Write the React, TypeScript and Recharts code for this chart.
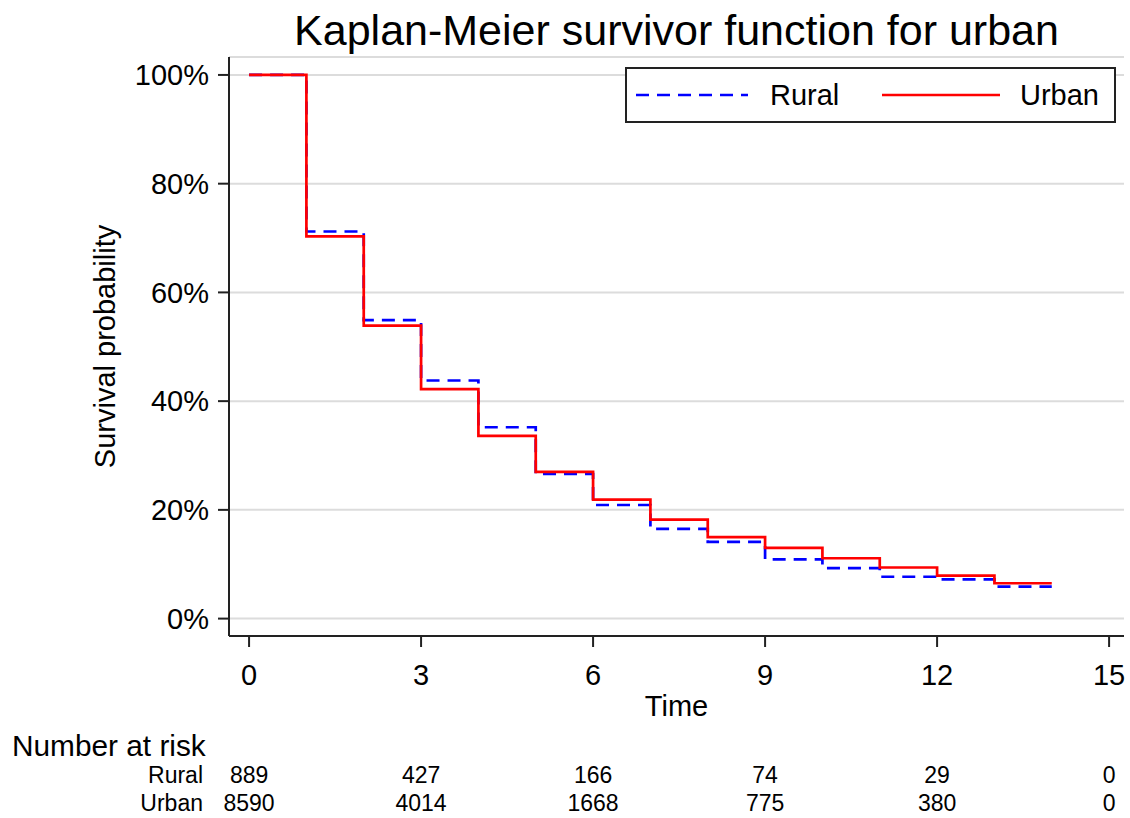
import { LineChart, Line, XAxis, YAxis, CartesianGrid } from "recharts";

// survivor estimates, one value per yearly step
const times = [0, 1, 2, 3, 4, 5, 6, 7, 8, 9, 10, 11, 12, 13, 14];
const ruralSurv = [100, 71.2, 54.9, 43.8, 35.2, 26.6, 20.9, 16.5, 14.1, 10.9, 9.3, 7.7, 7.2, 5.9, 5.9];
const urbanSurv = [100, 70.3, 53.9, 42.2, 33.6, 27.0, 21.9, 18.2, 15.0, 13.0, 11.1, 9.4, 7.9, 6.5, 6.5];

const timeTicks = [0, 3, 6, 9, 12, 15];
const pctTicks = [0, 20, 40, 60, 80, 100];
const ruralAtRisk = [889, 427, 166, 74, 29, 0];
const urbanAtRisk = [8590, 4014, 1668, 775, 380, 0];

const data = times.map((t, i) => ({ time: t, rural: ruralSurv[i], urban: urbanSurv[i] }));

const xDomain = [-0.35, 15.26];
const yDomain = [-3.2, 103.3];
const frame = "#222";
const font = '"Liberation Sans", Arial, sans-serif';

function TimeLabel(props: any) {
  const vb = props.viewBox;
  return (
    <g>
      <text x={vb.x + vb.width / 2} y={vb.y + 80} textAnchor="middle" fontSize={29} fill="#000">
        Time
      </text>
      <text x={12} y={vb.y + 120} fontSize={29.8} fill="#000">
        Number at risk
      </text>
    </g>
  );
}

function RowLabel(props: any) {
  const vb = props.viewBox;
  return (
    <text x={vb.x - 26} y={vb.y + vb.height / 2 + 8} textAnchor="end" fontSize={23} fill="#000">
      {props.name}
    </text>
  );
}

function YLabel(props: any) {
  const vb = props.viewBox;
  return (
    <text
      transform={`translate(105, ${vb.y + vb.height / 2}) rotate(-90)`}
      textAnchor="middle"
      dominantBaseline="central"
      fontSize={29}
      fill="#000"
    >
      Survival probability
    </text>
  );
}

export default function App() {
  return (
    <div
      style={{
        position: "absolute",
        left: 0,
        top: 0,
        width: 1130,
        height: 818,
        background: "#fff",
        fontFamily: font,
      }}
    >
      <div
        style={{
          position: "absolute",
          left: 229,
          width: 895,
          top: 9,
          textAlign: "center",
          fontSize: 43,
          lineHeight: 1,
          color: "#000",
        }}
      >
        Kaplan-Meier survivor function for urban
      </div>
      <LineChart
        width={1130}
        height={818}
        data={data}
        margin={{ top: 57, right: 6, left: 0, bottom: 1 }}
      >
        <CartesianGrid vertical={false} stroke="#dcdcdc" strokeWidth={2} />
        <XAxis
          dataKey="time"
          type="number"
          domain={xDomain}
          allowDataOverflow
          ticks={timeTicks}
          height={125}
          tickSize={11}
          tickMargin={17}
          axisLine={{ stroke: frame, strokeWidth: 2 }}
          tickLine={{ stroke: frame, strokeWidth: 2 }}
          tick={{ fontSize: 29, fill: "#000" }}
          label={<TimeLabel />}
        />
        <XAxis
          xAxisId="rural"
          dataKey="time"
          type="number"
          domain={xDomain}
          allowDataOverflow
          ticks={timeTicks}
          height={28}
          tickSize={0}
          tickMargin={6}
          axisLine={false}
          tickLine={false}
          tick={{ fontSize: 23, fill: "#000" }}
          tickFormatter={(v: number) => String(ruralAtRisk[timeTicks.indexOf(v)])}
          label={<RowLabel name="Rural" />}
        />
        <XAxis
          xAxisId="urban"
          dataKey="time"
          type="number"
          domain={xDomain}
          allowDataOverflow
          ticks={timeTicks}
          height={28}
          tickSize={0}
          tickMargin={6}
          axisLine={false}
          tickLine={false}
          tick={{ fontSize: 23, fill: "#000" }}
          tickFormatter={(v: number) => String(urbanAtRisk[timeTicks.indexOf(v)])}
          label={<RowLabel name="Urban" />}
        />
        <XAxis
          xAxisId="top"
          orientation="top"
          type="number"
          domain={xDomain}
          allowDataOverflow
          height={0}
          tick={false}
          tickLine={false}
          axisLine={{ stroke: frame, strokeWidth: 2 }}
        />
        <YAxis
          type="number"
          domain={yDomain}
          allowDataOverflow
          ticks={pctTicks}
          width={229}
          tickSize={11}
          tickMargin={9}
          tickFormatter={(v: number) => `${v}%`}
          axisLine={{ stroke: frame, strokeWidth: 2 }}
          tickLine={{ stroke: frame, strokeWidth: 2 }}
          tick={{ fontSize: 29, fill: "#000" }}
          label={<YLabel />}
        />
        <YAxis
          yAxisId="right"
          orientation="right"
          type="number"
          domain={yDomain}
          allowDataOverflow
          width={0}
          tick={false}
          tickLine={false}
          axisLine={{ stroke: frame, strokeWidth: 2 }}
        />
        <Line
          type="stepAfter"
          dataKey="rural"
          stroke="#0000ff"
          strokeWidth={2.7}
          strokeDasharray="13 8"
          dot={false}
          isAnimationActive={false}
        />
        <Line
          type="stepAfter"
          dataKey="urban"
          stroke="#ff0000"
          strokeWidth={2.7}
          dot={false}
          isAnimationActive={false}
        />
      </LineChart>
      <div
        style={{
          position: "absolute",
          left: 625,
          top: 67,
          width: 491,
          height: 56,
          boxSizing: "border-box",
          border: `2px solid ${frame}`,
          background: "#fff",
        }}
      >
        <svg width={487} height={52} style={{ display: "block" }}>
          <line x1={9} x2={121} y1={26} y2={26} stroke="#0000ff" strokeWidth={2.7} strokeDasharray="13 8" />
          <text x={143} y={36} fontSize={29} fill="#000">
            Rural
          </text>
          <line x1={255} x2={373} y1={26} y2={26} stroke="#ff0000" strokeWidth={2.7} />
          <text x={393} y={36} fontSize={29} fill="#000">
            Urban
          </text>
        </svg>
      </div>
    </div>
  );
}
